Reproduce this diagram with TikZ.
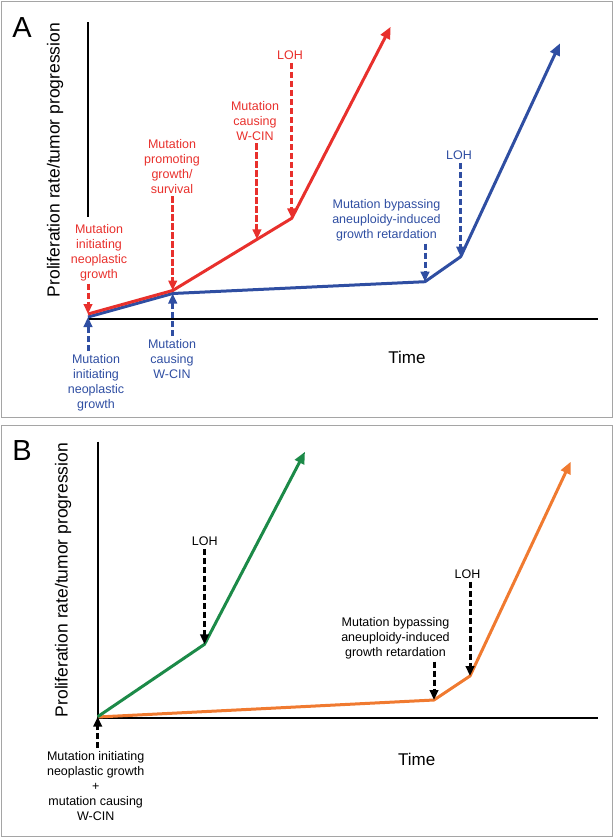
\documentclass[tikz,border=0pt]{standalone}
\usepackage{fontspec}
\setmainfont{Liberation Sans}
\usetikzlibrary{arrows.meta,calc}
\definecolor{cured}{RGB}{232,48,44}
\definecolor{cublue}{RGB}{47,78,162}
\definecolor{cugreen}{RGB}{28,138,72}
\definecolor{cuorange}{RGB}{240,122,48}
\definecolor{cuframe}{RGB}{165,165,165}
\tikzset{
  curve/.style={line width=3pt,line join=round,-{Triangle[length=12pt,width=10pt]}},
  hit/.style={line width=3pt,dash pattern=on 6.5pt off 2.5pt,-{Triangle[length=10pt,width=8.5pt]}},
  note/.style={align=center,inner sep=0pt,outer sep=3pt,anchor=north,font=\fontsize{12.5}{15}\selectfont},
  axis/.style={line width=2pt},
  tag/.style={font=\fontsize{29}{30}\selectfont},
  ylab/.style={rotate=90,font=\fontsize{17.5}{20}\selectfont},
  tlab/.style={font=\fontsize{17}{20}\selectfont},
}
\begin{document}
\begin{tikzpicture}[x=1pt,y=-1pt]
  \useasboundingbox (0,0) rectangle (613,839);
  % 面板边框
  \draw[cuframe,line width=1pt] (1,1) rectangle (612,417);
  \draw[cuframe,line width=1pt] (1,425) rectangle (612,836);

  %%%%%%%%%%%%%%%% 面板 A
  \node[tag] (tagA) at (22,28) {A};
  \node[ylab] (ylabA) at (55,160) {Proliferation rate/tumor progression};
  % 坐标轴
  \draw[axis] (88.3,22) -- (88.3,217);
  \draw[axis] (88.3,319.3) -- (598,319.3);
  \node[tlab] (timeA) at (407,357.5) {Time};
  % 折线顶点
  \coordinate (b0) at (88,317);
  \coordinate (b1) at (172.7,293.5);
  \coordinate (b2) at (425,281.7);
  \coordinate (b3) at (460.7,256.7);
  \coordinate (b4) at (560,43.3);
  \coordinate (r0) at (88,314);
  \coordinate (r1) at (172.7,290.5);
  \coordinate (r2) at (291.7,218.3);
  \coordinate (r3) at (390.7,26.7);
  \coordinate (rw) at ($(r1)!0.708!(r2)$);
  % 蓝线与红线
  \draw[curve,cublue] (b0) -- (b1) -- (b2) -- (b3) -- (b4);
  \draw[curve,cured] (r0) -- (r1) -- (r2) -- (r3);
  % 红色标注
  \node[note,cured] (R1) at (99,221) {Mutation\\initiating\\neoplastic\\growth};
  \node[note,cured] (R2) at (172,136) {Mutation\\promoting\\growth/\\survival};
  \node[note,cured] (R3) at (255,98) {Mutation\\causing\\W-CIN};
  \node[note,cured] (R4) at (290,48) {LOH};
  \draw[hit,cured] (R1.south -| r0) -- (r0);
  \draw[hit,cured] (R2.south -| r1) -- (r1);
  \draw[hit,cured] (R3.south -| rw) -- (rw);
  \draw[hit,cured] (R4.south -| r2) -- (r2);
  % 蓝色标注
  \node[note,cublue] (B1) at (96,351) {Mutation\\initiating\\neoplastic\\growth};
  \node[note,cublue] (B2) at (172,336) {Mutation\\causing\\W-CIN};
  \node[note,cublue] (B3) at (386.5,196) {Mutation bypassing\\aneuploidy-induced\\growth retardation};
  \node[note,cublue] (B4) at (459,148) {LOH};
  \draw[hit,cublue] (B1.north -| b0) -- (b0);
  \draw[hit,cublue] (B2.north -| b1) -- (b1);
  \draw[hit,cublue] (B3.south -| b2) -- (b2);
  \draw[hit,cublue] (B4.south -| b3) -- (b3);

  %%%%%%%%%%%%%%%% 面板 B
  \node[tag] (tagB) at (22,451) {B};
  \node[ylab] (ylabB) at (63,580) {Proliferation rate/tumor progression};
  % 坐标轴
  \draw[axis] (97.7,441.7) -- (97.7,718.3) -- (597.7,718.3);
  \node[tlab] (timeB) at (416.7,759) {Time};
  % 折线顶点
  \coordinate (g0) at (97.7,716.7);
  \coordinate (g1) at (204.5,644.3);
  \coordinate (g2) at (305,451.7);
  \coordinate (o0) at (97.7,717);
  \coordinate (o1) at (434,700);
  \coordinate (o2) at (470,676);
  \coordinate (o3) at (570.7,461.7);
  % 橙线与绿线
  \draw[curve,cuorange] (o0) -- (o1) -- (o2) -- (o3);
  \draw[curve,cugreen] (g0) -- (g1) -- (g2);
  % 黑色标注
  \node[note] (K1) at (204.7,534) {LOH};
  \node[note] (K2) at (395.5,614) {Mutation bypassing\\aneuploidy-induced\\growth retardation};
  \node[note] (K3) at (467.5,567) {LOH};
  \node[note] (K4) at (95.7,748) {Mutation initiating\\neoplastic growth\\+\\mutation causing\\W-CIN};
  \draw[hit] (K1.south -| g1) -- (g1);
  \draw[hit] (K2.south -| o1) -- (o1);
  \draw[hit] (K3.south -| o2) -- (o2);
  \draw[hit] (K4.north -| g0) -- (g0);
\end{tikzpicture}
\end{document}
